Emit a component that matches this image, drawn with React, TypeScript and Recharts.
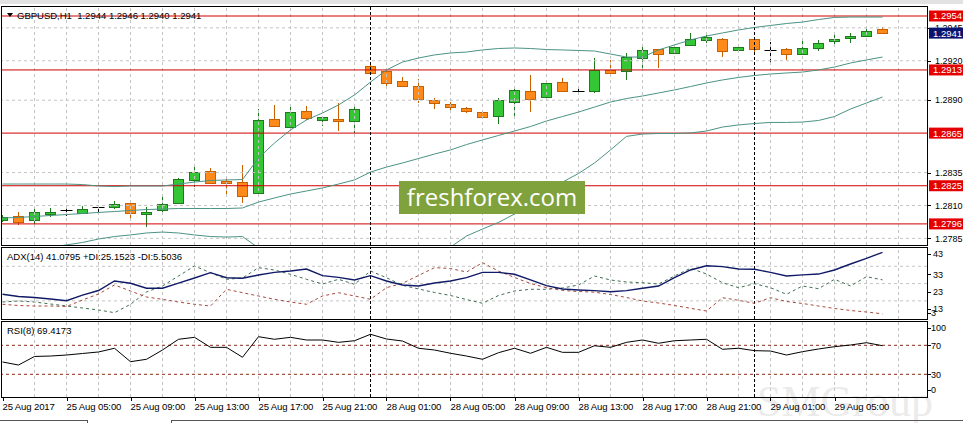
import React from 'react';
import { ComposedChart, LineChart, Line, Bar, XAxis, YAxis, ReferenceLine } from 'recharts';

// ---------- data ----------
const barIndex = [0,1,2,3,4,5,6,7,8,9,10,11,12,13,14,15,16,17,18,19,20,21,22,23,24,25,26,27,28,29,30,31,32,33,34,35,36,37,38,39,40,41,42,43,44,45,46,47,48,49,50,51,52,53,54,55];

const opens = [1.27986,1.2802,1.27987,1.28033,1.28066,1.28045,1.28086,1.28091,1.28117,1.28033,1.28066,1.28117,1.28294,1.2836,1.28286,1.28276,1.28193,1.28755,1.28699,1.28816,1.28752,1.28757,1.2874,1.2916,1.29124,1.29044,1.29008,1.28902,1.28871,1.28841,1.2881,1.2878,1.28884,1.2897,1.28927,1.29038,1.28972,1.28968,1.29127,1.2912,1.29219,1.29287,1.29257,1.2932,1.29355,1.29367,1.29284,1.29365,1.29284,1.29291,1.29253,1.29299,1.29348,1.29373,1.2939,1.2944];
const highs = [1.28028,1.2805,1.28079,1.28079,1.28083,1.28096,1.28101,1.28136,1.28126,1.28086,1.28172,1.28309,1.2839,1.28383,1.28307,1.28408,1.28831,1.28864,1.28846,1.28856,1.28775,1.28877,1.28856,1.29168,1.29135,1.29074,1.29059,1.28915,1.28889,1.28851,1.28818,1.28915,1.28983,1.29092,1.29038,1.29067,1.28998,1.29219,1.29206,1.29259,1.29302,1.29293,1.29327,1.29413,1.29409,1.29373,1.29325,1.29375,1.29345,1.29297,1.2935,1.2936,1.29403,1.29409,1.29441,1.2946];
const lows = [1.27974,1.27952,1.27952,1.2801,1.2802,1.28041,1.28048,1.28073,1.27984,1.27939,1.28033,1.28111,1.28238,1.28263,1.28174,1.28121,1.28167,1.28704,1.28687,1.2875,1.28706,1.28668,1.28653,1.29099,1.29008,1.28998,1.28877,1.28831,1.28805,1.28801,1.28755,1.28719,1.28782,1.28808,1.28909,1.28962,1.2894,1.28957,1.29092,1.29054,1.29122,1.29147,1.29251,1.29312,1.29333,1.29231,1.29264,1.29266,1.29193,1.29206,1.29251,1.29274,1.29314,1.29333,1.29388,1.294];
const closes = [1.28016,1.27977,1.28048,1.2805,1.28066,1.28073,1.28086,1.28109,1.28041,1.2805,1.28109,1.28301,1.28354,1.28269,1.28271,1.28174,1.2875,1.28706,1.28808,1.28767,1.2877,1.28744,1.28831,1.29105,1.29033,1.2901,1.28907,1.28877,1.28846,1.28816,1.2877,1.28902,1.28978,1.28911,1.29029,1.2897,1.28972,1.29127,1.29107,1.29226,1.29282,1.29249,1.29302,1.29363,1.2938,1.29276,1.29304,1.29287,1.29284,1.29249,1.29299,1.29335,1.29367,1.29388,1.29426,1.2941];

const bbUpper = [1.28263,1.28263,1.28263,1.28263,1.28263,1.28259,1.28248,1.28244,1.28248,1.28248,1.28248,1.28263,1.28278,1.2829,1.28294,1.28297,1.28461,1.28575,1.28674,1.2875,1.28803,1.28864,1.2894,1.29038,1.2913,1.2919,1.29221,1.29244,1.29259,1.29266,1.29282,1.29293,1.29297,1.29293,1.29285,1.29282,1.29278,1.29274,1.29251,1.29228,1.29228,1.29282,1.2932,1.29358,1.29388,1.29411,1.29434,1.29453,1.29468,1.29483,1.29494,1.29513,1.29529,1.29532,1.29532,1.29532];
const bbMiddle = [1.28005,1.28009,1.28016,1.28024,1.28031,1.28039,1.28047,1.28054,1.28062,1.28069,1.28073,1.28077,1.28077,1.28077,1.28077,1.28081,1.28126,1.28157,1.28187,1.2821,1.28233,1.28263,1.28294,1.28354,1.28392,1.28423,1.28457,1.28491,1.28522,1.28563,1.28598,1.28632,1.28666,1.287,1.28742,1.28776,1.2881,1.28848,1.28886,1.28913,1.28932,1.28955,1.28978,1.29004,1.29031,1.29054,1.29073,1.29088,1.29099,1.29107,1.29114,1.2913,1.29152,1.29183,1.29206,1.29228];
const bbLower = [1.27746,1.27754,1.27769,1.27784,1.278,1.27819,1.27845,1.27864,1.27876,1.27891,1.27898,1.27891,1.27876,1.27864,1.2786,1.27864,1.27777,1.27739,1.27701,1.2767,1.27663,1.27663,1.27648,1.2767,1.27655,1.27655,1.27693,1.27739,1.27784,1.27868,1.27921,1.27971,1.28035,1.28107,1.28199,1.28278,1.28343,1.28423,1.28522,1.28625,1.28643,1.28647,1.28647,1.28651,1.28666,1.28696,1.28712,1.28723,1.28731,1.28731,1.28734,1.28746,1.28776,1.28833,1.28879,1.28924];

const adxValues = [16.8,15.5,14.95,14.1,13.1,16.3,19.0,24.5,23.2,20.3,20.3,23.3,26.2,29.3,26.4,26.05,27.96,29.5,30.3,31.4,27.6,26.6,25.1,27.6,24.5,22.2,21.6,23.3,24.5,26.4,29.5,29.5,28.4,25.1,21.8,19.9,19.3,18.9,18.3,18.9,20.3,21.6,26.4,30.85,33.3,32.8,31.4,31.25,29.5,27.4,28.0,28.5,30.85,34.3,37.6,41.08];
const plusDI = [12.35,12.93,12.35,11.2,10.04,8.89,7.73,6.17,11.0,18.13,21.6,27.38,33.16,29.29,25.47,26.23,32.18,30.85,28.36,25.47,22.76,25.47,22.58,30.27,26.4,22.01,19.87,17.84,16.11,13.8,11.6,16.11,18.71,19.69,19.69,20.45,22.18,27.38,25.07,23.91,23.51,22.76,27.38,31.83,28.54,23.51,20.62,22.93,20.62,16.8,21.6,20.04,25.47,21.6,26.98,25.15];
const minusDI = [11.02,10.33,10.04,10.04,9.75,13.51,16.98,22.18,18.71,15.24,13.91,12.35,11.02,10.04,19.69,17.73,15.82,13.91,12.35,11.02,15.82,17.73,15.82,13.91,20.62,23.16,27.67,32.18,31.72,29.69,35.07,30.27,26.51,23.05,20.62,19.0,18.42,18.02,16.69,14.95,12.93,11.78,10.33,8.71,7.15,14.84,13.34,11.6,14.84,12.64,11.49,10.04,8.6,7.44,6.57,5.5];
const rsiValues = [47.0,42.8,54.6,55.2,56.6,58.7,60.8,65.9,47.4,50.7,63.5,78.3,81.0,67.2,67.2,53.5,81.9,78.3,81.0,77.3,77.3,74.1,76.3,85.2,78.7,75.9,65.9,63.5,59.0,55.2,50.7,59.8,65.9,59.0,67.2,60.3,60.3,69.4,67.2,74.1,77.3,72.8,76.3,77.3,78.3,64.5,65.9,62.6,62.1,56.6,61.2,64.9,68.1,70.4,73.6,69.42];

const timeTickBars = [0,4,8,12,16,20,24,28,32,36,40,44,48,52];
const timeTickLabels = ['25 Aug 2017','25 Aug 05:00','25 Aug 09:00','25 Aug 13:00','25 Aug 17:00','25 Aug 21:00','28 Aug 01:00','28 Aug 05:00','28 Aug 09:00','28 Aug 13:00','28 Aug 17:00','28 Aug 21:00','29 Aug 01:00','29 Aug 05:00'];
const gridBars = [2,4,6,8,10,12,14,16,18,20,22,24,26,28,30,32,34,36,38,40,42,44,46,48,50,52,54,56];
const daySeparators = [23, 47];

const priceTicks = [1.2945, 1.292, 1.289, 1.2835, 1.281, 1.2785];
const redLevels = [1.2954, 1.2913, 1.2865, 1.2825, 1.2796];
const lastPrice = 1.2941;
const adxTicks = [43, 33, 23, 13, 3];
const adxGrid = [33, 23, 13];
const rsiTicks = [100, 70, 30, 0];
const rsiLevels = [70, 30];

const headerText = 'GBPUSD,H1  1.2944 1.2946 1.2940 1.2941';
const adxText = 'ADX(14) 41.0795 +DI:25.1523 -DI:5.5036';
const rsiText = 'RSI(8) 69.4173';

// ---------- layout ----------
const W = 963;
const X_DOMAIN: [number, number] = [-0.03125, 57.78125];
const PRICE_DOMAIN: [number, number] = [1.277996, 1.296084];
const ADX_DOMAIN: [number, number] = [2.525, 44.14];
const RSI_DOMAIN: [number, number] = [-1.31, 103.52];
const FONT = '"Liberation Sans", Arial, sans-serif';
const GRID = '#c4c4c4';
const BAND = '#4b9385';

const data = barIndex.map((i, k) => ({
  i,
  open: opens[k],
  high: highs[k],
  low: lows[k],
  close: closes[k],
  range: [lows[k], highs[k]],
  up: bbUpper[k],
  mid: bbMiddle[k],
  lo: bbLower[k],
  adx: adxValues[k],
  pdi: plusDI[k],
  mdi: minusDI[k],
  rsi: rsiValues[k],
}));

function CandleShape(props: any) {
  const { x, y, width, height, payload } = props;
  if (!payload || x == null || y == null) return <g />;
  const { open, close, high, low } = payload;
  const top = height >= 0 ? y : y + height;
  const h = Math.abs(height);
  const k = high === low ? 0 : h / (high - low);
  const yOf = (v: number) => top + (high - v) * k;
  const left = Math.round(x);
  const bw = 10;
  const cx = left + 5.5;
  const yO = yOf(open);
  const yC = yOf(close);
  if (open === close) {
    const yy = Math.round(yO) + 0.5;
    return (
      <g>
        <line x1={cx} x2={cx} y1={Math.round(top)} y2={Math.round(top + h)} stroke="#000" strokeWidth={1} />
        <line x1={left - 0.5} x2={left + bw + 1.5} y1={yy} y2={yy} stroke="#000" strokeWidth={1} />
      </g>
    );
  }
  const bull = close > open;
  const fill = bull ? '#35c635' : '#ff8a1a';
  const edge = bull ? '#1f7a1f' : '#c86000';
  const bt = Math.round(Math.min(yO, yC));
  const bb = Math.round(Math.max(yO, yC));
  return (
    <g>
      <line x1={cx} x2={cx} y1={Math.round(top)} y2={Math.round(top + h)} stroke={edge} strokeWidth={1} />
      <rect x={left + 0.5} y={bt + 0.5} width={bw} height={Math.max(bb - bt, 1)} fill={fill} stroke={edge} strokeWidth={1} />
    </g>
  );
}

function PriceTick(props: any) {
  const { x, y, payload } = props;
  const v = payload.value as number;
  const isRed = redLevels.includes(v);
  const isLast = v === lastPrice;
  if (isRed || isLast) {
    return (
      <g>
        <rect x={x - 6} y={y - 5.5} width={34} height={11} fill={isRed ? '#e40000' : '#0a1470'} />
        <text x={x - 2} y={y} dy="0.36em" fill="#fff" fontSize={9.5} fontFamily={FONT}>{v.toFixed(4)}</text>
      </g>
    );
  }
  return (
    <g>
      <line x1={x - 8} x2={x - 4} y1={Math.round(y) + 0.5} y2={Math.round(y) + 0.5} stroke="#000" />
      <text x={x} y={y} dy="0.36em" fill="#000" fontSize={9} fontFamily={FONT}>{v.toFixed(4)}</text>
    </g>
  );
}

const adxShift: Record<number, number> = { 43: 5, 33: 8, 23: 8.5, 13: 8, 3: -5 };
function AdxTick(props: any) {
  const { x, y, payload } = props;
  const v = payload.value as number;
  const ty = y + (adxShift[v] || 0);
  return (
    <g>
      <line x1={x - 8} x2={x - 4} y1={Math.round(ty) + 0.5} y2={Math.round(ty) + 0.5} stroke="#000" />
      <text x={v === 3 ? x - 4 : x - 2} y={ty} dy="0.36em" fill="#000" fontSize={9} fontFamily={FONT}>{String(v)}</text>
    </g>
  );
}

const rsiShift: Record<number, number> = { 100: 4.5, 70: 0, 30: 0, 0: -6 };
function RsiTick(props: any) {
  const { x, y, payload } = props;
  const v = payload.value as number;
  const ty = y + (rsiShift[v] || 0);
  return (
    <g>
      <line x1={x - 8} x2={x - 4} y1={Math.round(ty) + 0.5} y2={Math.round(ty) + 0.5} stroke="#000" />
      <text x={x - 4} y={ty} dy="0.36em" fill="#000" fontSize={9} fontFamily={FONT}>{String(v)}</text>
    </g>
  );
}

function TimeTick(props: any) {
  const { x, y, payload } = props;
  const idx = timeTickBars.indexOf(payload.value);
  const label = idx >= 0 ? timeTickLabels[idx] : '';
  const tx = Math.round(x) + 0.5;
  return (
    <g>
      <line x1={tx} x2={tx} y1={y - 8} y2={y - 4} stroke="#000" />
      <text x={x} y={y + 4.5} fill="#000" fontSize={9.6} fontFamily={FONT} letterSpacing={-0.15}>{label}</text>
    </g>
  );
}

function GridX() {
  return null;
}

export default function App() {
  const frame = (top: number, height: number) => ({
    position: 'absolute' as const,
    left: 1,
    top,
    width: 927,
    height,
    border: '1px solid #000',
    boxSizing: 'border-box' as const,
    pointerEvents: 'none' as const,
  });
  const label = (left: number, top: number, size: number) => ({
    position: 'absolute' as const,
    left,
    top,
    fontSize: size,
    lineHeight: '11px',
    whiteSpace: 'pre' as const,
    color: '#000',
    fontFamily: FONT,
  });

  return (
    <div style={{ position: 'absolute', left: 0, top: 0, width: W, height: 423, background: '#fff', overflow: 'hidden', fontFamily: FONT }}>
      <div style={{ position: 'absolute', left: 0, top: 0, width: W, height: 4, background: '#e2e2e2' }} />
      <div style={{ position: 'absolute', left: 757, top: 376, fontSize: 44, fontFamily: '"Liberation Serif", serif', color: '#ebebeb', whiteSpace: 'pre' }}>SMGroup</div>

      {/* main price panel */}
      <div style={{ position: 'absolute', left: 0, top: 0 }}>
        <ComposedChart width={W} height={246} data={data} margin={{ top: 7, right: 0, bottom: 1, left: 2 }}>
          <XAxis dataKey="i" type="number" domain={X_DOMAIN} allowDataOverflow hide />
          <YAxis
            orientation="right"
            type="number"
            domain={PRICE_DOMAIN}
            allowDataOverflow
            width={36}
            ticks={[...priceTicks, ...redLevels, lastPrice]}
            interval={0}
            axisLine={false}
            tickLine={false}
            tickSize={6}
            tickMargin={2}
            tick={(p: any) => <PriceTick {...p} />}
          />
          {gridBars.map((b) => (
            <ReferenceLine key={'gx' + b} x={b} stroke={GRID} strokeDasharray="3 3" />
          ))}
          {priceTicks.map((p) => (
            <ReferenceLine key={'gy' + p} y={p} stroke={GRID} strokeDasharray="3 3" />
          ))}
          {redLevels.map((p) => (
            <ReferenceLine key={'r' + p} y={p} stroke="#d00000" strokeWidth={1} />
          ))}
          {daySeparators.map((s) => (
            <ReferenceLine key={'s' + s} x={s} stroke="#000" strokeDasharray="3 2" />
          ))}
          <Line dataKey="up" stroke={BAND} strokeWidth={1} dot={false} activeDot={false} isAnimationActive={false} />
          <Line dataKey="mid" stroke={BAND} strokeWidth={1} dot={false} activeDot={false} isAnimationActive={false} />
          <Line dataKey="lo" stroke={BAND} strokeWidth={1} dot={false} activeDot={false} isAnimationActive={false} />
          <Bar dataKey="range" barSize={11} shape={(p: any) => <CandleShape {...p} />} isAnimationActive={false} />
        </ComposedChart>
      </div>

      {/* ADX panel */}
      <div style={{ position: 'absolute', left: 0, top: 247 }}>
        <LineChart width={W} height={72} data={data} margin={{ top: 0, right: 0, bottom: 0, left: 2 }}>
          <XAxis dataKey="i" type="number" domain={X_DOMAIN} allowDataOverflow hide />
          <YAxis
            orientation="right"
            type="number"
            domain={ADX_DOMAIN}
            allowDataOverflow
            width={36}
            ticks={adxTicks}
            interval={0}
            axisLine={false}
            tickLine={false}
            tickSize={6}
            tickMargin={2}
            tick={(p: any) => <AdxTick {...p} />}
          />
          {gridBars.map((b) => (
            <ReferenceLine key={'agx' + b} x={b} stroke={GRID} strokeDasharray="3 3" />
          ))}
          {adxGrid.map((v) => (
            <ReferenceLine key={'agy' + v} y={v} stroke={GRID} strokeDasharray="3 3" />
          ))}
          {daySeparators.map((s) => (
            <ReferenceLine key={'as' + s} x={s} stroke="#000" strokeDasharray="3 2" />
          ))}
          <Line dataKey="pdi" stroke="#3f6f52" strokeWidth={1} strokeDasharray="3 3" dot={false} activeDot={false} isAnimationActive={false} />
          <Line dataKey="mdi" stroke="#a8483c" strokeWidth={1} strokeDasharray="3 3" dot={false} activeDot={false} isAnimationActive={false} />
          <Line dataKey="adx" stroke="#101a66" strokeWidth={1.4} dot={false} activeDot={false} isAnimationActive={false} />
        </LineChart>
      </div>

      {/* RSI panel + time axis */}
      <div style={{ position: 'absolute', left: 0, top: 321 }}>
        <LineChart width={W} height={100} data={data} margin={{ top: 0, right: 0, bottom: 0, left: 2 }}>
          <XAxis
            dataKey="i"
            type="number"
            domain={X_DOMAIN}
            allowDataOverflow
            ticks={timeTickBars}
            interval={0}
            height={24}
            axisLine={false}
            tickLine={false}
            tickSize={6}
            tickMargin={2}
            tick={(p: any) => <TimeTick {...p} />}
          />
          <YAxis
            orientation="right"
            type="number"
            domain={RSI_DOMAIN}
            allowDataOverflow
            width={36}
            ticks={rsiTicks}
            interval={0}
            axisLine={false}
            tickLine={false}
            tickSize={6}
            tickMargin={2}
            tick={(p: any) => <RsiTick {...p} />}
          />
          {gridBars.map((b) => (
            <ReferenceLine key={'rgx' + b} x={b} stroke={GRID} strokeDasharray="3 3" />
          ))}
          {rsiLevels.map((v) => (
            <ReferenceLine key={'rl' + v} y={v} stroke="#8a2a1a" strokeDasharray="3 3" />
          ))}
          {daySeparators.map((s) => (
            <ReferenceLine key={'rs' + s} x={s} stroke="#000" strokeDasharray="3 2" />
          ))}
          <Line dataKey="rsi" stroke="#000" strokeWidth={1} dot={false} activeDot={false} isAnimationActive={false} />
        </LineChart>
      </div>

      {/* watermark box */}
      <div style={{ position: 'absolute', left: 399, top: 181, width: 186, height: 33, background: '#7fa23c', color: '#fff', fontFamily: '"Open Sans", sans-serif', fontSize: 24, lineHeight: '31px', textAlign: 'center', whiteSpace: 'pre' }}>freshforex.com</div>

      {/* frames */}
      <div style={frame(6, 240)} />
      <div style={frame(247, 73)} />
      <div style={frame(321, 77)} />

      {/* texts */}
      <div style={{ position: 'absolute', left: 7, top: 13, width: 0, height: 0, borderLeft: '3.5px solid transparent', borderRight: '3.5px solid transparent', borderTop: '4px solid #000' }} />
      <div style={label(17, 9.5, 9.5)}>{headerText}</div>
      <div style={label(7, 250.5, 9.5)}>{adxText}</div>
      <div style={label(7, 324.5, 9.5)}>{rsiText}</div>

      {/* bottom tab strip */}
      <div style={{ position: 'absolute', left: 0, top: 420, width: 87, height: 1, background: '#555' }} />
      <div style={{ position: 'absolute', left: 87, top: 420, width: 1, height: 3, background: '#555' }} />
      <div style={{ position: 'absolute', left: 171, top: 420, width: 1, height: 3, background: '#555' }} />
      <div style={{ position: 'absolute', left: 171, top: 420, width: W - 171, height: 1, background: '#555' }} />
    </div>
  );
}
